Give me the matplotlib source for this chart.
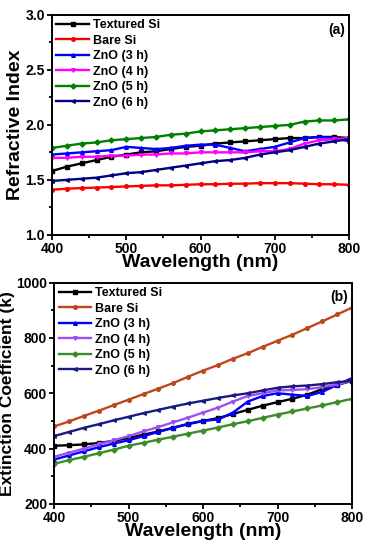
import numpy as np
import matplotlib
matplotlib.use("Agg")
import matplotlib.pyplot as plt
from matplotlib.ticker import MultipleLocator

plt.rcParams["font.family"] = ["Liberation Sans", "DejaVu Sans"]
plt.rcParams["font.weight"] = "bold"

wavelength = list(range(400, 801, 20))
labels = ["Textured Si", "Bare Si", "ZnO (3 h)", "ZnO (4 h)", "ZnO (5 h)", "ZnO (6 h)"]

# (a) refractive index
n_textured = [1.58, 1.62, 1.65, 1.68, 1.71, 1.73, 1.75, 1.76, 1.78, 1.80, 1.81,
              1.83, 1.84, 1.85, 1.86, 1.87, 1.88, 1.88, 1.89, 1.89, 1.88]
n_bare = [1.41, 1.42, 1.425, 1.43, 1.435, 1.44, 1.445, 1.45, 1.45, 1.455, 1.46,
          1.46, 1.465, 1.465, 1.47, 1.47, 1.47, 1.465, 1.46, 1.46, 1.455]
n_zno3 = [1.73, 1.74, 1.75, 1.76, 1.77, 1.80, 1.79, 1.78, 1.79, 1.81, 1.82,
          1.82, 1.79, 1.76, 1.78, 1.80, 1.84, 1.88, 1.89, 1.88, 1.85]
n_zno4 = [1.70, 1.70, 1.71, 1.71, 1.72, 1.72, 1.73, 1.73, 1.74, 1.74, 1.75,
          1.75, 1.75, 1.75, 1.76, 1.76, 1.78, 1.83, 1.86, 1.87, 1.88]
n_zno5 = [1.79, 1.81, 1.83, 1.84, 1.86, 1.87, 1.88, 1.89, 1.91, 1.92, 1.94,
          1.95, 1.96, 1.97, 1.98, 1.99, 2.00, 2.03, 2.04, 2.04, 2.05]
n_zno6 = [1.49, 1.50, 1.51, 1.52, 1.54, 1.56, 1.57, 1.59, 1.61, 1.63, 1.65,
          1.67, 1.68, 1.70, 1.73, 1.75, 1.77, 1.80, 1.83, 1.85, 1.87]

# (b) extinction coefficient
k_textured = [410, 412, 415, 420, 428, 438, 450, 462, 475, 488, 500,
              510, 525, 540, 555, 568, 580, 595, 615, 630, 645]
k_bare = [480, 498, 518, 537, 557, 577, 597, 617, 637, 660, 682,
          702, 725, 745, 768, 790, 812, 836, 860, 885, 910]
k_zno3 = [360, 375, 390, 405, 418, 430, 445, 460, 475, 490, 500,
          505, 530, 570, 590, 600, 595, 590, 605, 630, 655]
k_zno4 = [370, 385, 400, 415, 430, 445, 462, 478, 495, 512, 530,
          548, 570, 590, 600, 610, 612, 615, 622, 632, 645]
k_zno5 = [345, 358, 370, 383, 396, 410, 421, 432, 443, 454, 465,
          476, 488, 499, 511, 523, 534, 545, 556, 568, 580]
k_zno6 = [445, 460, 475, 488, 502, 515, 528, 540, 552, 563, 573,
          583, 592, 600, 610, 620, 625, 628, 633, 640, 645]

markers = ["s", "o", "^", "v", "D", "<"]
colors_a = ["#000000", "#ff0000", "#0000ff", "#ff00ff", "#008000", "#000080"]
colors_b = ["#000000", "#c0461c", "#0000ff", "#a050f0", "#3c8c28", "#1a1a80"]


def style_axes(ax):
    for sp in ax.spines.values():
        sp.set_linewidth(1.4)
    ax.tick_params(which="both", direction="out", top=False, right=False,
                   labelsize=10, width=1.3, pad=1.5)
    ax.tick_params(which="major", length=3.5)
    ax.tick_params(which="minor", length=2)
    for lab in ax.get_xticklabels() + ax.get_yticklabels():
        lab.set_fontweight("bold")
    ax.set_xlim(400, 800)
    ax.xaxis.set_major_locator(MultipleLocator(100))
    ax.xaxis.set_minor_locator(MultipleLocator(50))
    ax.set_xlabel("Wavelength (nm)", fontsize=14, fontweight="bold", labelpad=-1)


def draw(ax, series, colors, tag):
    for y, lab, c, m in zip(series, labels, colors, markers):
        ax.plot(wavelength, y, color=c, lw=1.7, marker=m, ms=2.6, label=lab)
    ax.legend(loc="upper left", frameon=False, handlelength=2.6,
              handletextpad=0.3, labelspacing=0.28, borderaxespad=0.15,
              borderpad=0.2, prop={"weight": "bold", "size": 9})
    ax.text(0.985, 0.965, tag, transform=ax.transAxes, ha="right", va="top",
            fontsize=10, fontweight="bold")


fig = plt.figure(figsize=(3.71, 5.5), dpi=100)
ax1 = fig.add_axes([0.140, 0.573, 0.801, 0.400])
ax2 = fig.add_axes([0.146, 0.084, 0.803, 0.402])

draw(ax1, [n_textured, n_bare, n_zno3, n_zno4, n_zno5, n_zno6], colors_a, "(a)")
ax1.set_ylim(1.0, 3.0)
ax1.yaxis.set_major_locator(MultipleLocator(0.5))
ax1.yaxis.set_minor_locator(MultipleLocator(0.25))
ax1.set_ylabel("Refractive Index", fontsize=14, fontweight="bold", labelpad=1)
style_axes(ax1)

draw(ax2, [k_textured, k_bare, k_zno3, k_zno4, k_zno5, k_zno6], colors_b, "(b)")
ax2.set_ylim(200, 1000)
ax2.yaxis.set_major_locator(MultipleLocator(200))
ax2.yaxis.set_minor_locator(MultipleLocator(100))
ax2.set_ylabel("Extinction Coefficient (k)", fontsize=12.5, fontweight="bold", labelpad=1)
style_axes(ax2)

fig.savefig("out.png", dpi=100)
